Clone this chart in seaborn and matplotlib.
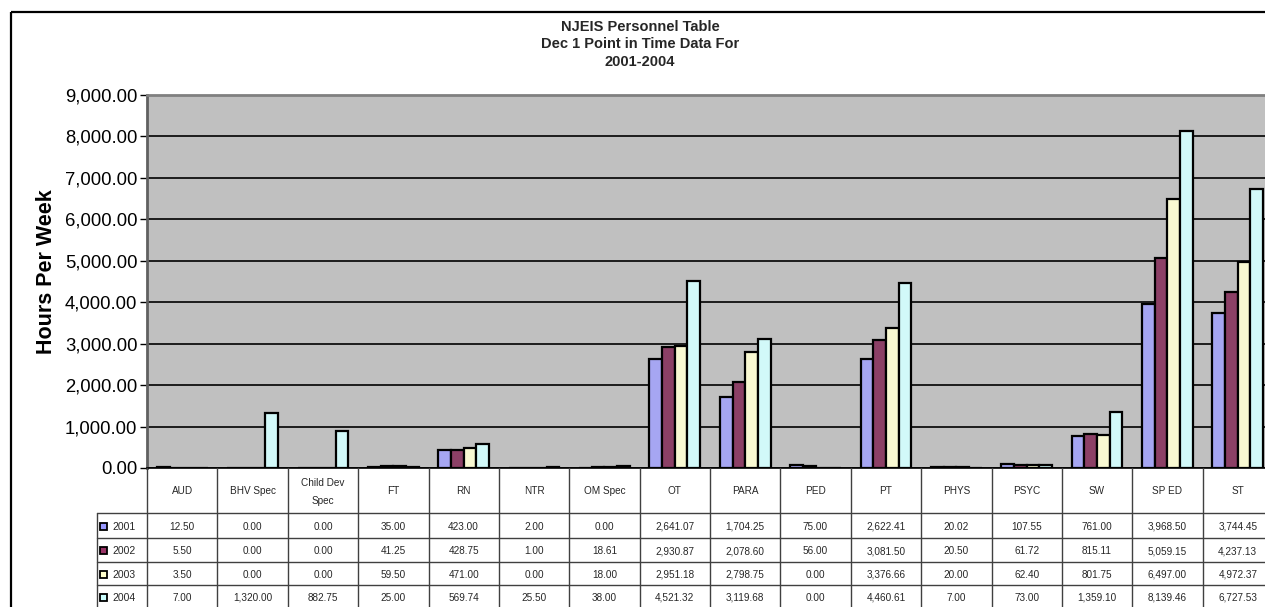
import matplotlib
matplotlib.use("Agg")
import matplotlib.pyplot as plt
import matplotlib.transforms as mtransforms
from matplotlib.lines import Line2D
from matplotlib.patches import Rectangle
import numpy as np
import pandas as pd
import seaborn as sns

# ---- data -------------------------------------------------------------
categories = ["AUD", "BHV Spec", "Child Dev\nSpec", "FT", "RN", "NTR", "OM Spec",
              "OT", "PARA", "PED", "PT", "PHYS", "PSYC", "SW", "SP ED", "ST"]
years = ["2001", "2002", "2003", "2004"]

hours_2001 = [12.50, 0.00, 0.00, 35.00, 423.00, 2.00, 0.00, 2641.07, 1704.25, 75.00,
              2622.41, 20.02, 107.55, 761.00, 3968.50, 3744.45]
hours_2002 = [5.50, 0.00, 0.00, 41.25, 428.75, 1.00, 18.61, 2930.87, 2078.60, 56.00,
              3081.50, 20.50, 61.72, 815.11, 5059.15, 4237.13]
hours_2003 = [3.50, 0.00, 0.00, 59.50, 471.00, 0.00, 18.00, 2951.18, 2798.75, 0.00,
              3376.66, 20.00, 62.40, 801.75, 6497.00, 4972.37]
hours_2004 = [7.00, 1320.00, 882.75, 25.00, 569.74, 25.50, 38.00, 4521.32, 3119.68, 0.00,
              4460.61, 7.00, 73.00, 1359.10, 8139.46, 6727.53]

series = [hours_2001, hours_2002, hours_2003, hours_2004]
colors = ["#9999FF", "#993366", "#FFFFCC", "#CCFFFF"]
y_ticks = [0, 1000, 2000, 3000, 4000, 5000, 6000, 7000, 8000, 9000]

df = pd.DataFrame({
    "category": np.repeat([categories], len(years), axis=0).ravel(),
    "year": np.repeat(years, len(categories)),
    "hours": np.concatenate(series),
})

# ---- figure -----------------------------------------------------------
sns.set_theme(style="white")
plt.rcParams["font.family"] = ["Liberation Sans", "DejaVu Sans"]

W, H = 1265, 607
fig = plt.figure(figsize=(W / 100, H / 100), dpi=100)
fig.patch.set_facecolor("white")

left_px, right_px, top_px, bottom_px = 147, 1273, 95, 468
ax = fig.add_axes([left_px / W, 1 - bottom_px / H,
                   (right_px - left_px) / W, (bottom_px - top_px) / H])
ax.set_facecolor("#C0C0C0")

sns.barplot(data=df, x="category", y="hours", hue="year", order=categories,
            hue_order=years, palette=colors, width=0.72, gap=0,
            edgecolor="black", linewidth=1.6, errorbar=None, legend=False,
            ax=ax, zorder=3)

ax.set_xlim(-0.5, len(categories) - 0.5)
ax.set_ylim(0, 9000)
ax.set_yticks(y_ticks)
ax.set_yticklabels([f"{v:,.2f}" for v in y_ticks], fontsize=13.3, color="black")
ax.tick_params(axis="y", direction="out", length=5, width=1, color="black",
               pad=2, left=True)
ax.tick_params(axis="x", bottom=False, labelbottom=False)
ax.set_xlabel("")
ax.set_ylabel("Hours Per Week", fontsize=15.5, fontweight="bold", color="black")
ax.yaxis.set_label_coords((57 - left_px) / (right_px - left_px),
                          (bottom_px - 272) / (bottom_px - top_px))

ax.grid(axis="y", color="black", linewidth=1.2)
ax.grid(axis="x", visible=False)
ax.set_axisbelow(True)
for side in ["top", "right"]:
    ax.spines[side].set_color("#808080")
    ax.spines[side].set_linewidth(2)
ax.spines["left"].set_color("#606060")
ax.spines["left"].set_linewidth(2)
ax.spines["bottom"].set_color("black")
ax.spines["bottom"].set_linewidth(1.2)

# ---- title ------------------------------------------------------------
fig.text(640 / W, 1 - 20 / H, "NJEIS Personnel Table\nDec 1 Point in Time Data For\n2001-2004",
         ha="center", va="top", fontsize=10.5, fontweight="bold", linespacing=1.3)

# ---- outer chart frame -------------------------------------------------
px = mtransforms.Affine2D().scale(1 / W, -1 / H).translate(0, 1) + fig.transFigure
fig.add_artist(Rectangle((11, 12), 2000, 2000, transform=px, fill=False,
                         edgecolor="black", linewidth=1.6))

# ---- data table below the plot ----------------------------------------
tx = mtransforms.blended_transform_factory(ax.transData, px)
line_kw = dict(color="#404040", linewidth=1.0)

header_bottom = 513
row_edges = [513, 538, 562, 585, 609]
row_centers = [(a + b) / 2 for a, b in zip(row_edges[:-1], row_edges[1:])]

n = len(categories)
for b in np.arange(-0.5, n, 1.0):
    fig.add_artist(Line2D([b, b], [bottom_px, 620], transform=tx, **line_kw))
for y in row_edges:
    fig.add_artist(Line2D([97, 1300], [y, y], transform=px, **line_kw))
fig.add_artist(Line2D([97, 97], [header_bottom, 620], transform=px, **line_kw))

for i, cat in enumerate(categories):
    fig.text(i, (bottom_px + header_bottom) / 2 + 1, cat, transform=tx,
             ha="center", va="center", fontsize=7.2, linespacing=2.0)
    for vals, yc in zip(series, row_centers):
        fig.text(i, yc + 1, f"{vals[i]:,.2f}", transform=tx,
                 ha="center", va="center", fontsize=7.2)

for yr, col, yc in zip(years, colors, row_centers):
    fig.add_artist(Rectangle((100, yc - 3), 7, 7, transform=px, facecolor=col,
                             edgecolor="black", linewidth=1.3))
    fig.text(112, yc + 1, yr, transform=px, ha="left", va="center", fontsize=7.5)

fig.savefig("out.png", dpi=100, facecolor="white")
